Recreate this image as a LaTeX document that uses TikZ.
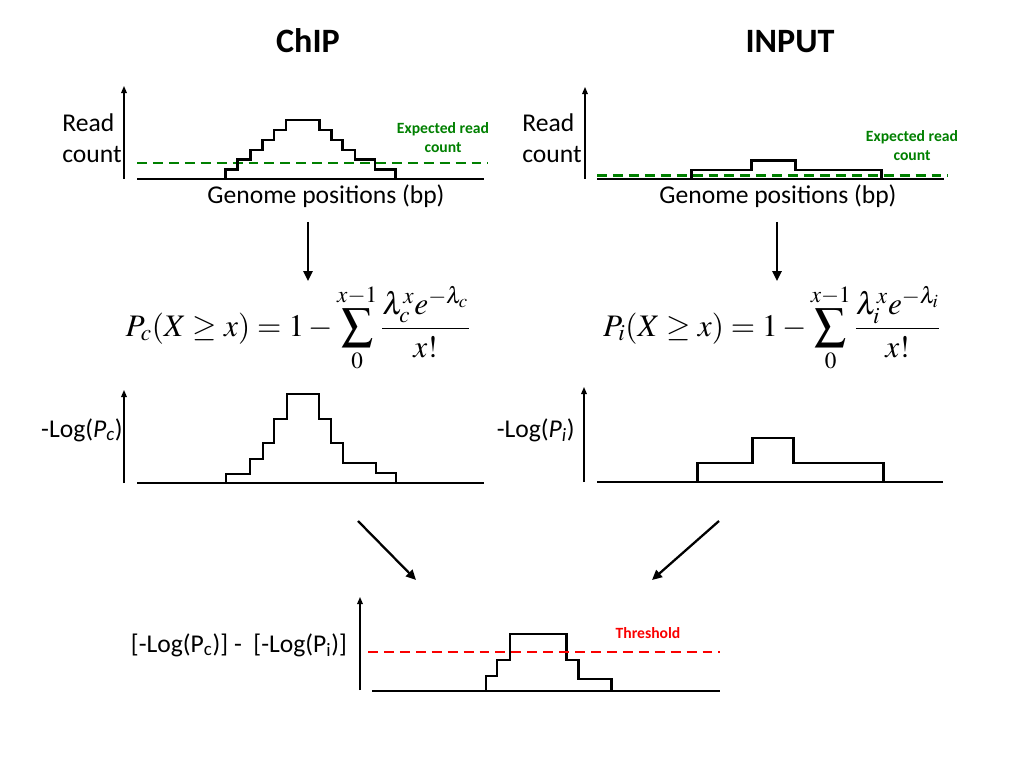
\documentclass[tikz,border=0pt]{standalone}
\usepackage{mathptmx}
\usepackage[no-math]{fontspec}
\setmainfont{Carlito}
\usetikzlibrary{arrows.meta}
\definecolor{expgreen}{RGB}{0,128,0}
\definecolor{thred}{RGB}{250,0,0}
\begin{document}
\begin{tikzpicture}[x=0.703125pt,y=-0.703125pt,
  axis/.style={line width=0.9pt,-{Triangle[length=5pt,width=4pt]}},
  baseln/.style={line width=2.1pt},
  curve/.style={line width=2.1pt, line join=miter},
  expline/.style={line width=2pt, expgreen, dash pattern=on 7pt off 4.2pt},
  thline/.style={line width=2pt, thred, dash pattern=on 7pt off 4.2pt},
  flow/.style={line width=1.6pt,-{Triangle[length=7pt,width=6.5pt]}},
  lab/.style={font=\fontsize{18}{22}\selectfont, inner sep=0pt},
  ttl/.style={font=\fontsize{24}{29}\selectfont\bfseries, inner sep=0pt},
  note/.style={font=\fontsize{11}{13.4}\selectfont\bfseries, inner sep=0pt, align=center},
  eq/.style={font=\fontsize{22}{26}\selectfont, inner sep=0pt}]
\useasboundingbox[fill=white] (0,0) rectangle (1024,768);

% titles
\node[ttl, anchor=base] (chip) at (308,53) {ChIP};
\node[ttl, anchor=base] (input) at (790,53) {INPUT};

% panel 1: ChIP read count
\draw[axis] (124,179) -- (124,86);
\draw[expline] (137,163) -- (488,163);
\draw[baseln] (137,179) -- (484,179);
\draw[curve] (225.7,179)--(225.7,169.3)--(237.3,169.3)--(237.3,159.3)--(250.7,159.3)--(250.7,150)--(262.3,150)--(262.3,140)--(274,140)--(274,130)--(286,130)--(286,120)--(319.3,120)--(319.3,130)--(331.7,130)--(331.7,140)--(342.7,140)--(342.7,150)--(355,150)--(355,159.3)--(375,159.3)--(375,169.3)--(395.7,169.3)--(395.7,179);
\node[lab, anchor=north west, align=left] (rc1) at (62,113) {Read\\count};
\node[note, text=expgreen] (exp1) at (443,138) {Expected read\\count};
\node[lab, anchor=base] (gp1) at (326,204) {Genome positions (bp)};

% panel 2: INPUT read count
\draw[axis] (585,179) -- (585,87);
\draw[baseln] (597,179) -- (944,179);
\draw[curve] (691,179)--(691,170)--(751,170)--(751,160.7)--(795,160.7)--(795,170)--(881.7,170)--(881.7,179);
\draw[expline] (597,175.7) -- (948,175.7);
\node[lab, anchor=north west, align=left] (rc2) at (522,113) {Read\\count};
\node[note, text=expgreen] (exp2) at (912,146) {Expected read\\count};
\node[lab, anchor=base] (gp2) at (778,204) {Genome positions (bp)};

% down arrows
\coordinate (a1s) at (308,222);
\coordinate (a1e) at (308,281);
\coordinate (a2s) at (777,222);
\coordinate (a2e) at (777,281);
\draw[flow] (a1s) -- (a1e);
\draw[flow] (a2s) -- (a2e);

% formulas
\node[eq] (eqc) at (298,328) {$\displaystyle P_c(X\geq x)=1-\sum_{0}^{x-1}\frac{\lambda_c^x e^{-\lambda_c}}{x!}$};
\node[eq] (eqi) at (772,328) {$\displaystyle P_i(X\geq x)=1-\sum_{0}^{x-1}\frac{\lambda_i^x e^{-\lambda_i}}{x!}$};

% panel 3: -Log(Pc)
\draw[axis] (124,483) -- (124,390);
\draw[baseln] (137,483) -- (484,483);
\draw[curve] (226,483)--(226,474)--(250,474)--(250,459)--(263,459)--(263,443)--(274,443)--(274,419)--(287,419)--(287,394)--(319,394)--(319,419)--(331,419)--(331,443)--(343,443)--(343,463)--(376,463)--(376,473)--(396,473)--(396,483);
\node[lab, anchor=base east] (lc) at (123,437) {-Log(\textit{P}\textsubscript{\textit{c}})};

% panel 4: -Log(Pi)
\draw[axis] (584,482) -- (584,387);
\draw[baseln] (597,482) -- (943,482);
\draw[curve] (697,482)--(697,463)--(752,463)--(752,438)--(793,438)--(793,463)--(883,463)--(883,482);
\node[lab, anchor=base east] (li) at (575,437) {-Log(\textit{P}\textsubscript{\textit{i}})};

% diagonal arrows
\coordinate (d1s) at (358,521);
\coordinate (d1e) at (416,580);
\coordinate (d2s) at (719,521);
\coordinate (d2e) at (652,580);
\draw[flow] (d1s) -- (d1e);
\draw[flow] (d2s) -- (d2e);

% panel 5: difference
\draw[axis] (360,690) -- (360,597);
\draw[baseln] (372,691) -- (720,691);
\draw[curve] (486,691)--(486,676)--(497,676)--(497,660)--(510,660)--(510,634)--(566,634)--(566,660)--(578,660)--(578,679)--(611,679)--(611,691);
\draw[thline] (368,652) -- (720,652);
\node[lab, anchor=base] (diff) at (239,652) {[-Log(P\textsubscript{c})] -\ \ [-Log(P\textsubscript{i})]};
\node[note, text=thred, anchor=base] (thr) at (648,638) {Threshold};
\end{tikzpicture}
\end{document}
